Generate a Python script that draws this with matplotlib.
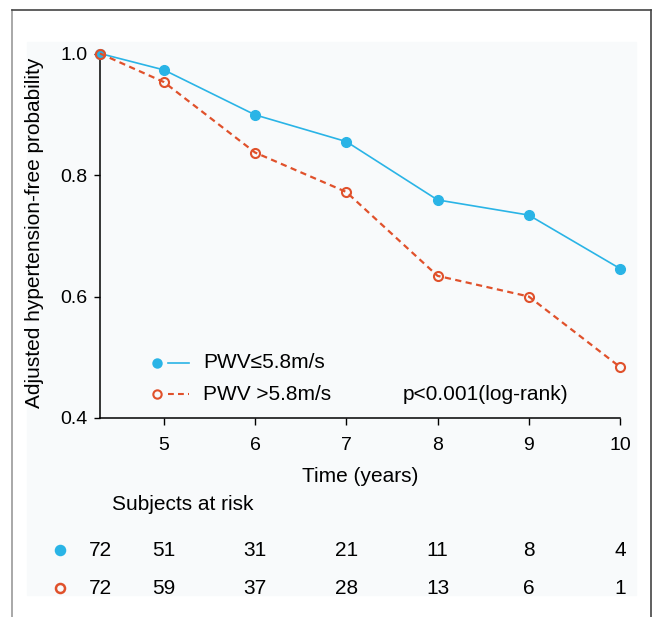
import matplotlib
matplotlib.use("Agg")
import matplotlib.pyplot as plt
import matplotlib.transforms as mtransforms
from matplotlib.lines import Line2D
from matplotlib.patches import Rectangle

plt.rcParams['font.family'] = ['Liberation Sans', 'DejaVu Sans']

time = [4.3, 5, 6, 7, 8, 9, 10]
low_pwv = [1.0, 0.973, 0.899, 0.855, 0.759, 0.734, 0.646]
high_pwv = [1.0, 0.953, 0.837, 0.772, 0.634, 0.600, 0.484]
risk_low = [72, 51, 31, 21, 11, 8, 4]
risk_high = [72, 59, 37, 28, 13, 6, 1]
xticks = [5, 6, 7, 8, 9, 10]
yticks = [0.4, 0.6, 0.8, 1.0]

blue = "#2ab4e6"
red = "#e0512b"
W, H = 656, 617

fig = plt.figure(figsize=(W / 100, H / 100), dpi=100)

def px(x, y):
    # pixel position (from top-left) to figure fraction
    return x / W, 1 - y / H

# faint panel background and frame lines
fig.patches.append(Rectangle(px(27, 595), (636 - 27) / W, (595 - 42) / H,
                             transform=fig.transFigure, color="#f8fafb", zorder=-10))
fig.lines.append(Line2D([12 / W, 12 / W], [0, 1 - 10 / H], transform=fig.transFigure, color="#9a9a9a", lw=1.2))
fig.lines.append(Line2D([12 / W, 651 / W], [1 - 10 / H, 1 - 10 / H], transform=fig.transFigure, color="#444444", lw=1.2))
fig.lines.append(Line2D([651 / W, 651 / W], [0, 1 - 10 / H], transform=fig.transFigure, color="#444444", lw=1.2))

ax = fig.add_axes([100 / W, 1 - 418 / H, 520 / W, 364.5 / H], zorder=2)
ax.patch.set_alpha(0)

ax.plot(time, low_pwv, color=blue, lw=1.2, marker="o", ms=7, mfc=blue, mec=blue, clip_on=False, zorder=3)
ax.plot(time, high_pwv, color=red, lw=1.6, ls=(0, (2.8, 2)), marker="o", ms=6.5, mfc="none", mec=red, mew=1.5,
        clip_on=False, zorder=4)

ax.set_xlim(4.3, 10)
ax.set_ylim(0.4, 1.0)
ax.set_xticks(xticks)
ax.set_yticks(yticks)
ax.set_yticklabels(["%.1f" % v for v in yticks])
ax.spines["top"].set_visible(False)
ax.spines["right"].set_visible(False)
for s in ["left", "bottom"]:
    ax.spines[s].set_linewidth(1.1)
ax.tick_params(axis="x", length=5, width=1, pad=9, labelsize=14)
ax.tick_params(axis="y", length=4, width=1, pad=5, labelsize=14)

ax.set_xlabel("Time (years)", fontsize=15, labelpad=9)
fig.text(*px(35, 233), "Adjusted hypertension-free probability", rotation=90,
         ha="center", va="center", fontsize=15)

# legend drawn by hand
for yy, col, ls, mfc, label in [(363, blue, "-", blue, "PWV\u22645.8m/s"),
                                 (394, red, (0, (2.8, 2)), "none", "PWV >5.8m/s")]:
    fig.lines.append(Line2D([157 / W], [1 - yy / H], transform=fig.transFigure, marker="o", ms=6 if mfc != "none" else 6,
                            mfc=mfc, mec=col, mew=1.5, ls="none"))
    fig.lines.append(Line2D([168 / W, 189 / W], [1 - yy / H] * 2, transform=fig.transFigure,
                            color=col, lw=1.2 if ls == "-" else 1.5, ls=ls))
    fig.text(*px(203, yy), label, ha="left", va="center", fontsize=15)
fig.text(*px(403, 394), "p<0.001(log-rank)", ha="left", va="center", fontsize=15)

# numbers at risk
fig.text(*px(112, 504), "Subjects at risk", ha="left", va="center", fontsize=15)
trans = mtransforms.blended_transform_factory(ax.transData, fig.transFigure)
for yy, col, mfc, counts in [(550, blue, blue, risk_low), (588, red, "none", risk_high)]:
    fig.lines.append(Line2D([60 / W], [1 - yy / H], transform=fig.transFigure, marker="o", ms=6.5,
                            mfc=mfc, mec=col, mew=1.8, ls="none"))
    for t, n in zip(time, counts):
        fig.text(t, 1 - yy / H, str(n), transform=trans, ha="center", va="center", fontsize=15)

fig.savefig("out.png", dpi=100)
